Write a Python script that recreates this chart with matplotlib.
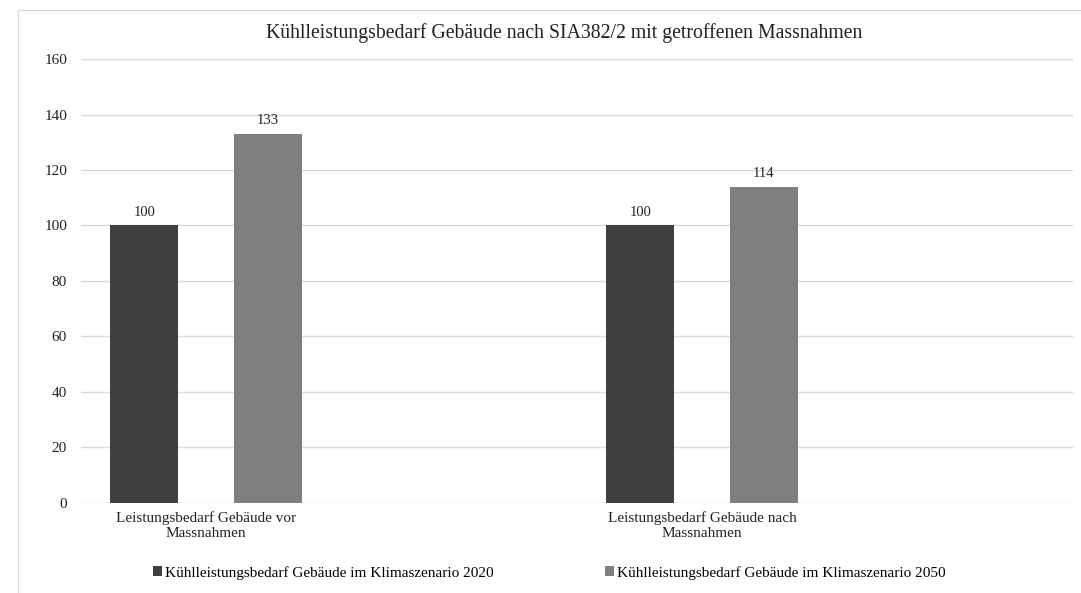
import numpy as np
import matplotlib
matplotlib.use('Agg')
import matplotlib.pyplot as plt
from matplotlib.patches import Rectangle

plt.rcParams['font.family'] = ['Liberation Serif', 'DejaVu Serif']

# Daten
kategorien = ['Leistungsbedarf Gebäude vor\nMassnahmen', 'Leistungsbedarf Gebäude nach\nMassnahmen']
werte_2020 = [100, 100]
werte_2050 = [133, 114]
serien = ['Kühlleistungsbedarf Gebäude im Klimaszenario 2020',
          'Kühlleistungsbedarf Gebäude im Klimaszenario 2050']
titel = 'Kühlleistungsbedarf Gebäude nach SIA382/2 mit getroffenen Massnahmen'

fig = plt.figure(figsize=(10.81, 5.93), dpi=100)
ax = fig.add_axes([0.0749, 0.1518, 0.9177, 0.7487])

x = np.arange(len(kategorien))
b = 0.137
off = 0.1245
bars1 = ax.bar(x - off, werte_2020, b, color='#404040', label=serien[0], zorder=3)
bars2 = ax.bar(x + off, werte_2050, b, color='#7f7f7f', label=serien[1], zorder=3)

for bars in (bars1, bars2):
    for r in bars:
        ax.text(r.get_x() + r.get_width() / 2, r.get_height() + 2.5, f'{r.get_height():.0f}',
                ha='center', va='bottom', fontsize=10.5, color='#222222')

ax.set_xlim(-0.252, 1.748)
ax.set_ylim(0, 160)
ax.set_yticks(np.arange(0, 161, 20))
ax.set_xticks(x)
ax.set_xticklabels(kategorien, fontsize=11, linespacing=1.2)
ax.tick_params(axis='y', length=0, labelsize=11, pad=10, labelcolor='#222222')
ax.tick_params(axis='x', length=0, pad=6, labelcolor='#222222')
ax.grid(axis='y', color='#d9d9d9', linewidth=1, zorder=0)
for s in ax.spines.values():
    s.set_visible(False)

fig.text(0.522, 0.944, titel, ha='center', va='center', fontsize=14.2, color='#222222')

fig.legend(loc='center', bbox_to_anchor=(0.508, 0.034), ncol=2, frameon=False,
           fontsize=11, handlelength=0.6, handleheight=0.6, handletextpad=0.2,
           columnspacing=7.3)

# äusserer Rahmen
fig.patches.append(Rectangle((0.0167, -0.05), 1.1, 1.033, transform=fig.transFigure,
                             fill=False, edgecolor='#d9d9d9', linewidth=1))

fig.savefig('out.png', dpi=100)
